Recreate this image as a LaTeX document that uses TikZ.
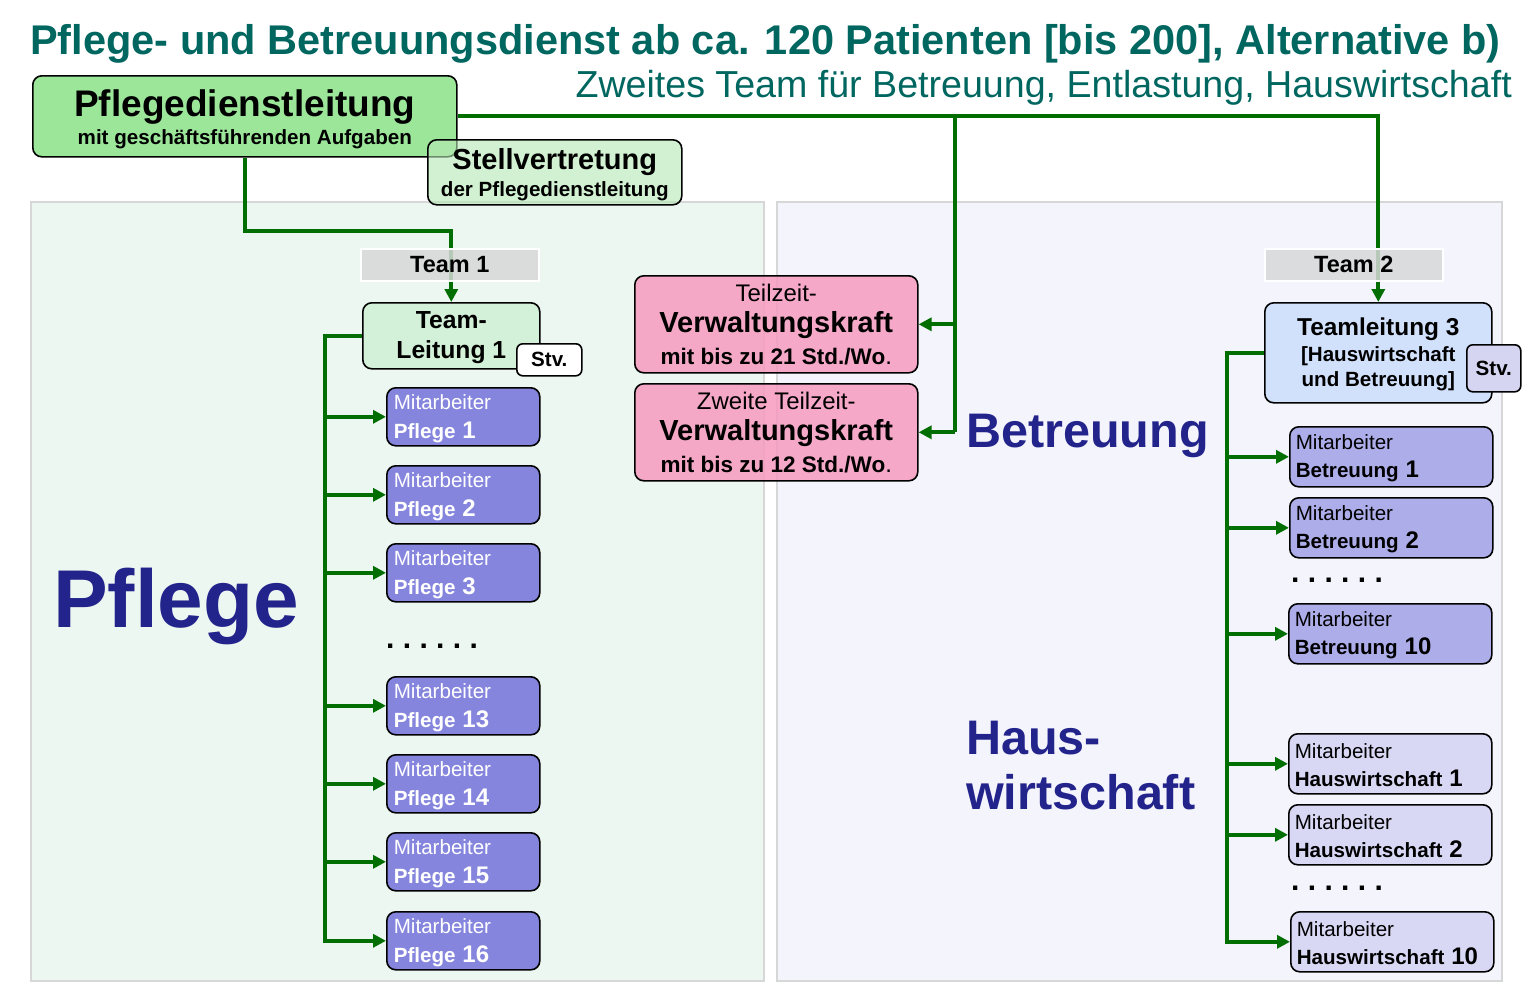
\documentclass[tikz,border=0pt]{standalone}
\usepackage{fontspec}
\setmainfont{Liberation Sans}
\usetikzlibrary{arrows.meta,positioning,calc}

\definecolor{titelgruen}{RGB}{0,102,96}
\definecolor{liniengruen}{RGB}{0,110,0}
\definecolor{pdlgruen}{RGB}{156,230,154}
\definecolor{stvgruen}{RGB}{180,233,180}
\definecolor{tlgruen}{RGB}{211,240,216}
\definecolor{pflblau}{RGB}{133,133,222}
\definecolor{betblau}{RGB}{173,173,234}
\definecolor{hwblau}{RGB}{216,216,244}
\definecolor{tlblau}{RGB}{209,224,251}
\definecolor{stvblau}{RGB}{213,213,242}
\definecolor{vkrosa}{RGB}{246,155,190}
\definecolor{teamgrau}{RGB}{214,216,216}
\definecolor{pflpanel}{RGB}{237,247,241}
\definecolor{betpanel}{RGB}{243,244,252}
\definecolor{panelrand}{RGB}{215,215,215}
\definecolor{marine}{RGB}{35,35,140}

\newcommand{\fsz}[2]{\fontsize{#1}{#2}\selectfont}

\begin{document}
\begin{tikzpicture}[x=1pt,y=-1pt,
  box/.style={draw=black,line width=1.6pt,rounded corners=9pt,inner sep=0pt},
  mitpfl/.style={box,fill=pflblau,text=white,anchor=north west,minimum width=153,minimum height=58,
    text width=139,inner xsep=7pt,align=left,font=\fsz{20.6}{29},execute at begin node=\rule{0pt}{19pt}},
  mitbet/.style={box,fill=betblau,anchor=north west,minimum width=203,minimum height=60,
    text width=191,inner xsep=6pt,align=left,font=\fsz{20.6}{28},execute at begin node=\rule{0pt}{17pt}},
  mithw/.style={mitbet,fill=hwblau},
  vk/.style={box,fill=vkrosa,fill opacity=0.85,text opacity=1,draw opacity=1,anchor=north west,
    minimum width=283,minimum height=97,align=center,font=\fsz{24}{31.5},execute at begin node=\rule{0pt}{23pt}},
  stvbox/.style={box,rounded corners=6pt,anchor=north west,font=\fsz{20.6}{24}\bfseries},
  teamlabel/.style={draw=white,line width=1.5pt,fill=teamgrau,fill opacity=0.85,text opacity=1,
    anchor=north west,minimum width=178,minimum height=32,inner sep=0pt,font=\fsz{23.5}{28}\bfseries},
  punkte/.style={anchor=base west,inner sep=0pt,font=\fsz{30}{36}\bfseries\frenchspacing},
  gross/.style={anchor=base west,inner sep=0pt,text=marine,font=\bfseries},
  linie/.style={draw=liniengruen,line width=4pt},
  link/.style={linie,-{Triangle[length=13pt,width=13pt]}}]

\useasboundingbox (0,0) rectangle (1535,983);
\fill[white] (0,0) rectangle (1535,983);

\draw[panelrand,line width=1.5pt,fill=pflpanel] (31,202) rectangle (764,981);
\draw[panelrand,line width=1.5pt,fill=betpanel] (777,202) rectangle (1502,981);

\node[anchor=base west,inner sep=0pt,text=titelgruen,font=\fsz{41.5}{48}\bfseries] (titel) at (30,54)
  {Pflege- und Betreuungsdienst ab ca. 120 Patienten [bis 200], Alternative b)};
\node[anchor=base east,inner sep=0pt,text=titelgruen,font=\fsz{37.6}{42}] (untertitel) at (1512,97)
  {Zweites Team für Betreuung, Entlastung, Hauswirtschaft};

\node[box,fill=pdlgruen,anchor=north west,minimum width=424,minimum height=81,align=center,font=\fsz{20.6}{28}] (pdl) at (32,75)
  {\rule{0pt}{32pt}{\fsz{37}{28}\bfseries Pflegedienstleitung}\\\textbf{mit geschäftsführenden Aufgaben}};
\node[box,fill=stvgruen,fill opacity=0.6,text opacity=1,draw opacity=1,anchor=north west,minimum width=254,minimum height=65,align=center,font=\fsz{20.6}{27}] (stv) at (427,139)
  {\rule{0pt}{26pt}{\fsz{29}{27}\bfseries Stellvertretung}\\\textbf{der Pflegedienstleitung}};

\node[box,fill=tlgruen,anchor=north west,minimum width=177,minimum height=66,align=center,font=\fsz{24.7}{30}\bfseries] (tl1) at (362,302)
  {\rule{0pt}{21pt}Team-\\Leitung 1};
\node[stvbox,fill=white,minimum width=65,minimum height=32] (stv1) at (516,343) {Stv.};

\node[mitpfl] (p1) at (386,387) {Mitarbeiter\\\textbf{Pflege \fsz{24}{29}1}};
\node[mitpfl] (p2) at (386,465) {Mitarbeiter\\\textbf{Pflege \fsz{24}{29}2}};
\node[mitpfl] (p3) at (386,543) {Mitarbeiter\\\textbf{Pflege \fsz{24}{29}3}};
\node[punkte] (dots1) at (386,648) {. . . . . .};
\node[mitpfl] (p13) at (386,676) {Mitarbeiter\\\textbf{Pflege \fsz{24}{29}13}};
\node[mitpfl] (p14) at (386,754) {Mitarbeiter\\\textbf{Pflege \fsz{24}{29}14}};
\node[mitpfl] (p15) at (386,832) {Mitarbeiter\\\textbf{Pflege \fsz{24}{29}15}};
\node[mitpfl] (p16) at (386,911) {Mitarbeiter\\\textbf{Pflege \fsz{24}{29}16}};

\node[gross,font=\fsz{82}{90}\bfseries] (pflege) at (53,627) {Pflege};

\node[vk] (vk1) at (634,275) {Teilzeit-\\{\fsz{29}{31.5}\bfseries Verwaltungskraft}\\{\fsz{22.5}{31.5}\bfseries mit bis zu 21 Std./Wo}.};
\node[vk] (vk2) at (634,383) {Zweite Teilzeit-\\{\fsz{29}{31.5}\bfseries Verwaltungskraft}\\{\fsz{22.5}{31.5}\bfseries mit bis zu 12 Std./Wo}.};

\node[gross,font=\fsz{48.5}{55}\bfseries] (betreuung) at (966,447) {Betreuung};
\node[gross,font=\fsz{48.5}{55}\bfseries,align=left,anchor=north west] (haus) at (966,721) {Haus-\\wirtschaft};

\node[box,fill=tlblau,anchor=north west,minimum width=227,minimum height=100,align=center,font=\fsz{20.6}{25}\bfseries] (tl3) at (1264,302)
  {\rule{0pt}{21pt}{\fsz{24.4}{25}Teamleitung 3}\\[1pt][Hauswirtschaft\\und Betreuung]};
\node[stvbox,fill=stvblau,minimum width=54,minimum height=47] (stv3) at (1466,344) {Stv.};

\node[mitbet] (b1) at (1289,426) {Mitarbeiter\\\textbf{Betreuung \fsz{24}{28}1}};
\node[mitbet] (b2) at (1289,497) {Mitarbeiter\\\textbf{Betreuung \fsz{24}{28}2}};
\node[punkte] (dots2) at (1291,582) {. . . . . .};
\node[mitbet] (b10) at (1288,603) {Mitarbeiter\\\textbf{Betreuung \fsz{24}{28}10}};
\node[mithw] (hw1) at (1288,733) {Mitarbeiter\\\textbf{Hauswirtschaft \fsz{24}{28}1}};
\node[mithw] (hw2) at (1288,804) {Mitarbeiter\\\textbf{Hauswirtschaft \fsz{24}{28}2}};
\node[punkte] (dots3) at (1291,890) {. . . . . .};
\node[mithw] (hw10) at (1290,911) {Mitarbeiter\\\textbf{Hauswirtschaft \fsz{24}{28}10}};

\coordinate (lstamm) at (325,0);
\coordinate (mstamm) at (955,0);
\coordinate (rstamm) at (1227,0);

\draw[link] (pdl.south) -- ++(0,73) -| (tl1.north);
\draw[link] (pdl.east) -| (tl3.north);
\draw[linie] (mstamm |- pdl.east) -- (mstamm |- vk2.east);
\draw[link] (mstamm |- vk1.east) -- (vk1.east);
\draw[link] (mstamm |- vk2.east) -- (vk2.east);

\draw[link] (tl1.west) -| (lstamm |- p16.west) -- (p16.west);
\draw[link] (lstamm |- p1.west) -- (p1.west);
\draw[link] (lstamm |- p2.west) -- (p2.west);
\draw[link] (lstamm |- p3.west) -- (p3.west);
\draw[link] (lstamm |- p13.west) -- (p13.west);
\draw[link] (lstamm |- p14.west) -- (p14.west);
\draw[link] (lstamm |- p15.west) -- (p15.west);

\draw[link] (tl3.west) -| (rstamm |- hw10.west) -- (hw10.west);
\draw[link] (rstamm |- b1.west) -- (b1.west);
\draw[link] (rstamm |- b2.west) -- (b2.west);
\draw[link] (rstamm |- b10.west) -- (b10.west);
\draw[link] (rstamm |- hw1.west) -- (hw1.west);
\draw[link] (rstamm |- hw2.west) -- (hw2.west);

\node[teamlabel] (team1) at (360,248) {Team 1};
\node[teamlabel] (team2) at (1264,248) {Team 2};
\end{tikzpicture}
\end{document}
